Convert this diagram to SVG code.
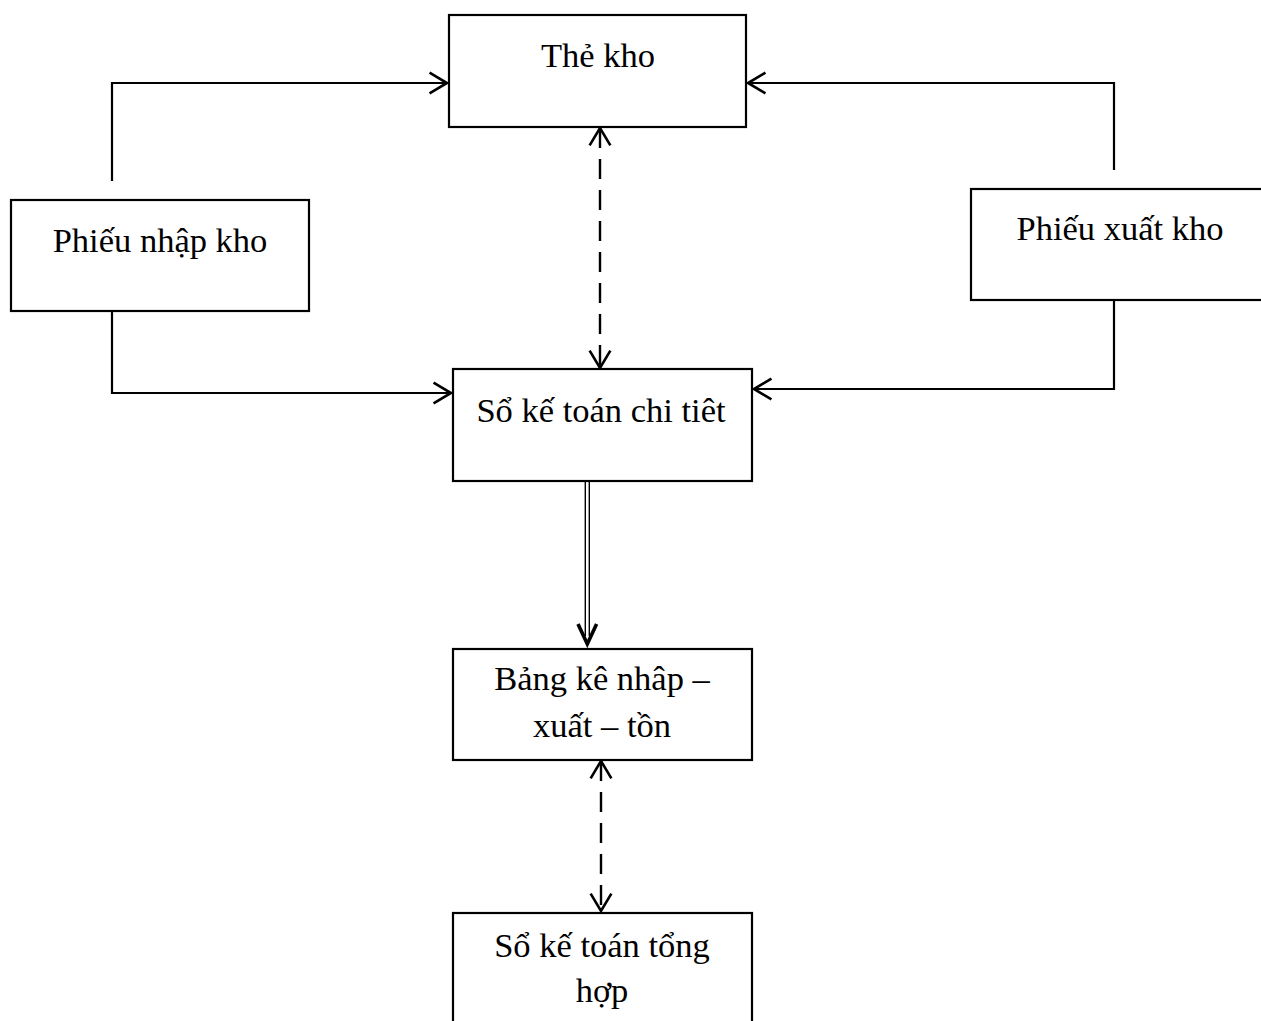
<svg xmlns="http://www.w3.org/2000/svg" width="1261" height="1021" viewBox="0 0 1261 1021">
  <style>
    .box { fill: #ffffff; stroke: #000000; stroke-width: 2.2; }
    .label { font-family: "Liberation Serif", "Times New Roman", serif; font-size: 34.5px; fill: #000000; text-anchor: middle; }
    .wire { fill: none; stroke: #000000; stroke-width: 2.2; }
    .dash { fill: none; stroke: #000000; stroke-width: 2.4; stroke-dasharray: 20 11; }
    .thin { fill: none; stroke: #000000; stroke-width: 1.4; }
    .head { fill: none; stroke: #000000; stroke-width: 3.6; }
  </style>
  <defs>
    <marker id="open" markerUnits="userSpaceOnUse" markerWidth="24" markerHeight="24" viewBox="0 0 20 22" refX="17" refY="11" orient="auto-start-reverse">
      <path d="M1,1.5 L17,11 L1,20.5" fill="none" stroke="#000000" stroke-width="2.4"/>
    </marker>
  </defs>

  <!-- connectors -->
  <g id="connectors">
    <!-- Phiếu nhập kho -> Thẻ kho -->
    <path class="wire" d="M112,181 V83 H447" marker-end="url(#open)"/>
    <!-- Phiếu nhập kho -> Sổ kế toán chi tiết -->
    <path class="wire" d="M112,311 V393 H451" marker-end="url(#open)"/>
    <!-- Phiếu xuất kho -> Thẻ kho -->
    <path class="wire" d="M1114,170 V83 H748" marker-end="url(#open)"/>
    <!-- Phiếu xuất kho -> Sổ kế toán chi tiết -->
    <path class="wire" d="M1114,300 V389 H754" marker-end="url(#open)"/>
    <!-- Thẻ kho <-> Sổ kế toán chi tiết -->
    <path class="dash" d="M600,128 V368" marker-start="url(#open)" marker-end="url(#open)"/>
    <!-- Sổ kế toán chi tiết => Bảng kê (double shaft, heavy head) -->
    <path class="thin" d="M585.3,482 V636"/>
    <path class="thin" d="M589.3,482 V636"/>
    <path class="head" d="M578,624 L587.3,644 L596.6,624"/>
    <!-- Bảng kê <-> Sổ kế toán tổng hợp -->
    <path class="dash" d="M601,761 V911" marker-start="url(#open)" marker-end="url(#open)"/>
  </g>

  <g id="the-kho">
    <rect class="box" x="449" y="15" width="297" height="112"/>
    <text class="label" x="598" y="67">Thẻ kho</text>
  </g>

  <g id="phieu-nhap-kho">
    <rect class="box" x="11" y="200" width="298" height="111"/>
    <text class="label" x="160" y="252">Phiếu nhập kho</text>
  </g>

  <g id="phieu-xuat-kho">
    <rect class="box" x="971" y="189" width="300" height="111"/>
    <text class="label" x="1120" y="240">Phiếu xuất kho</text>
  </g>

  <g id="so-ke-toan-chi-tiet">
    <rect class="box" x="453" y="369" width="299" height="112"/>
    <text class="label" x="601" y="422">Sổ kế toán chi tiêt</text>
  </g>

  <g id="bang-ke">
    <rect class="box" x="453" y="649" width="299" height="111"/>
    <text class="label" x="602" y="690">Bảng kê nhâp –</text>
    <text class="label" x="602" y="737">xuất – tồn</text>
  </g>

  <g id="so-ke-toan-tong-hop">
    <rect class="box" x="453" y="913" width="299" height="130"/>
    <text class="label" x="602" y="957">Sổ kế toán tổng</text>
    <text class="label" x="602" y="1002">hợp</text>
  </g>
</svg>
